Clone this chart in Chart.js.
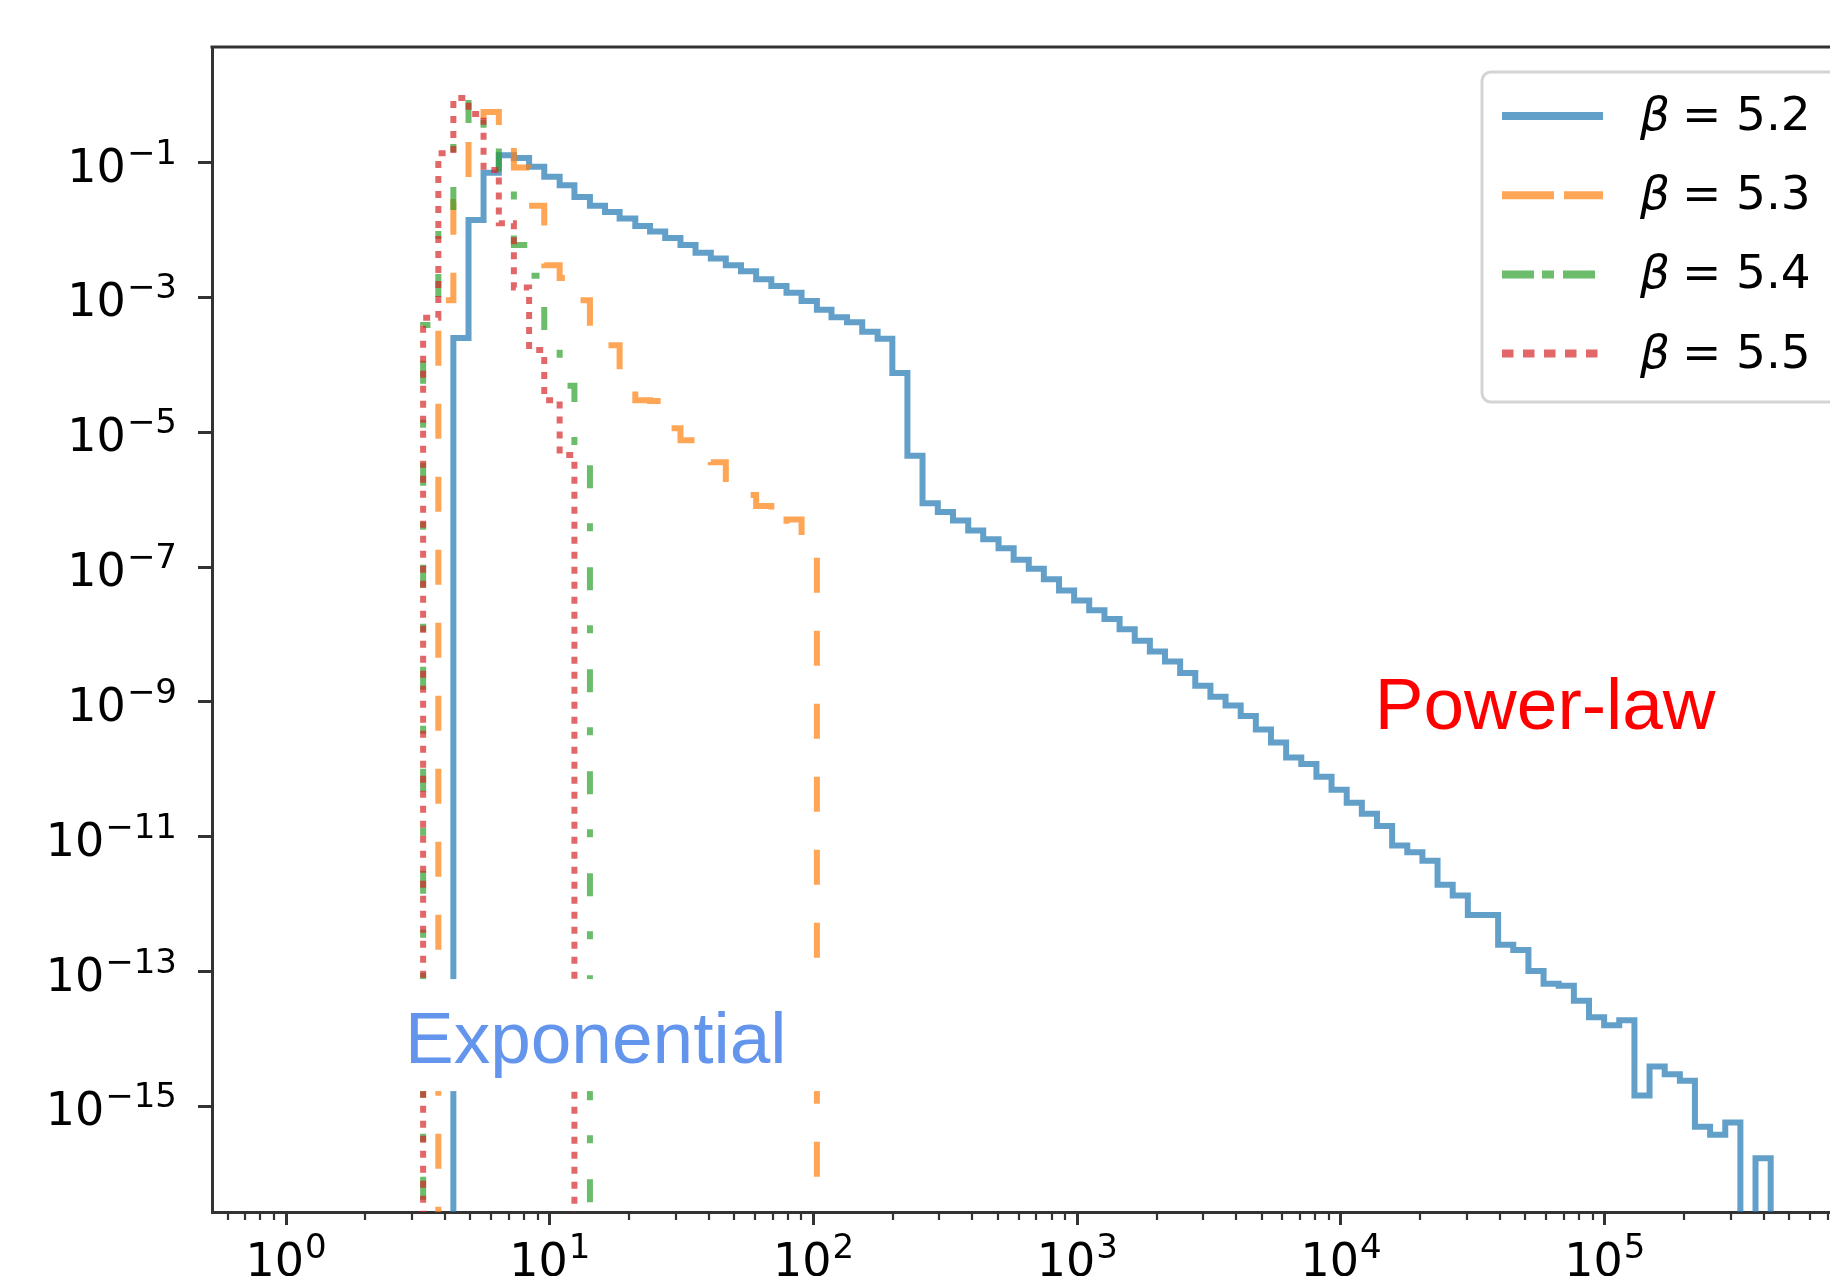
<!DOCTYPE html>
<html>
<head>
<meta charset="utf-8">
<script src="https://cdn.jsdelivr.net/npm/chart.js@4.4.1/dist/chart.umd.min.js"></script>
<style>
  html, body { margin: 0; padding: 0; background: #ffffff; overflow: hidden; width: 1830px; height: 1276px; }
  #wrap { position: absolute; left: 0; top: 0; width: 1900px; height: 1300px; }
</style>
</head>
<body>
<div id="wrap"><canvas id="c" width="1900" height="1300"></canvas></div>
<script>
// ---------------- data ----------------
// shared logarithmic histogram bin edges
const binEdges = [3.31, 3.78, 4.31, 4.92, 5.61, 6.41, 7.31, 8.35, 9.53, 10.9, 12.4, 14.2,
  16.2, 18.4, 21.1, 24.0, 27.4, 31.3, 35.7, 40.8, 46.5, 53.1, 60.6, 69.2, 79.0, 90.1,
  103, 117, 134, 153, 175, 199, 227, 259, 296, 338, 386, 440, 503, 574, 655, 747, 853, 973,
  1110, 1268, 1447, 1652, 1885, 2151, 2455, 2802, 3198, 3650, 4166, 4755, 5427, 6194, 7070,
  8069, 9209, 10510, 11995, 13690, 15626, 17835, 20355, 23234, 26518, 30266, 34545, 39428,
  45001, 51363, 58623, 66910, 76368, 87164, 99480, 113500, 129600, 147900, 168800, 192700,
  219800, 250900, 286400, 326800, 373000, 425800];

const seriesLabels = ['β = 5.2', 'β = 5.3', 'β = 5.4', 'β = 5.5'];

// index of the first bin edge used by each series
const blueFirstEdge = 2, orangeFirstEdge = 1, greenFirstEdge = 0, redFirstEdge = 0;

// histogram densities (0 = empty bin)
const blueValues = [2.5e-4, 1.41e-2, 7.1e-2, 0.129, 0.117, 8.7e-2, 6.2e-2, 4.6e-2, 3.1e-2,
  2.3e-2, 1.86e-2, 1.48e-2, 1.15e-2, 9.5e-3, 7.6e-3, 6.0e-3, 4.6e-3, 3.8e-3, 3.0e-3, 2.45e-3,
  1.86e-3, 1.48e-3, 1.17e-3, 8.9e-4, 6.6e-4, 5.1e-4, 4.3e-4, 3.1e-4, 2.45e-4, 7.6e-5, 4.5e-6,
  8.9e-7, 6.6e-7, 4.9e-7, 3.5e-7, 2.6e-7, 1.9e-7, 1.29e-7, 9.5e-8, 6.6e-8, 4.5e-8, 3.2e-8,
  2.3e-8, 1.7e-8, 1.2e-8, 8.1e-9, 5.6e-9, 4.0e-9, 2.7e-9, 1.74e-9, 1.2e-9, 8.9e-10, 6.2e-10,
  3.9e-10, 2.5e-10, 1.5e-10, 1.2e-10, 7.8e-11, 5.0e-11, 3.2e-11, 2.2e-11, 1.45e-11, 7.4e-12,
  5.9e-12, 4.4e-12, 1.95e-12, 1.35e-12, 6.9e-13, 6.9e-13, 2.5e-13, 2.1e-13, 1.02e-13, 6.6e-14,
  6.2e-14, 3.7e-14, 2.1e-14, 1.6e-14, 1.9e-14, 1.45e-15, 3.9e-15, 3.0e-15, 2.4e-15, 5.0e-16,
  3.8e-16, 5.8e-16, 0, 1.7e-16];
const orangeValues = [9.1e-4, 2.6e-2, 0.257, 0.562, 0.302, 8.5e-2, 2.3e-2, 3.0e-3, 1.95e-3,
  9.1e-4, 3.1e-4, 1.95e-4, 7.1e-5, 3.0e-5, 2.9e-5, 1.15e-5, 7.6e-6, 5.5e-6, 3.6e-6, 1.78e-6,
  1.17e-6, 8.1e-7, 3.8e-7, 5.1e-7, 1.9e-7];
const greenValues = [3.9e-4, 1.15e-2, 0.347, 0.851, 0.324, 5.9e-2, 6.0e-3, 2.1e-3, 2.5e-4,
  4.9e-5, 4.8e-6];
const redValues = [5.0e-4, 0.138, 0.912, 0.525, 7.8e-2, 1.26e-2, 1.41e-3, 1.66e-4, 3.0e-5,
  4.6e-6];

// axis ticks (label = "10" with the exponent written as a superscript)
const xTickValues = [1, 10, 100, 1000, 10000, 100000];
const xTickExponents = ['0', '1', '2', '3', '4', '5'];
const yTickValues = [1e-1, 1e-3, 1e-5, 1e-7, 1e-9, 1e-11, 1e-13, 1e-15];
const yTickExponents = ['\u22121', '\u22123', '\u22125', '\u22127', '\u22129', '\u221211', '\u221213', '\u221215'];

// text annotations (anchored in data coordinates)
const annotationTexts = ['Exponential', 'Power-law'];
const annotationX = [2.825, 13430];
const annotationY = [4.4e-15, 3.94e-10];

// ---------------- chart ----------------
const FLOOR = 1e-30; // an empty bin sits at -infinity on the log axis

function stepPoints(firstEdge, values) {
  const pts = [{ x: binEdges[firstEdge], y: FLOOR }];
  values.forEach((v, i) => pts.push({ x: binEdges[firstEdge + i], y: v > 0 ? v : FLOOR }));
  pts.push({ x: binEdges[firstEdge + values.length], y: FLOOR });
  return pts;
}

const colors = ['rgba(31,119,180,0.7)', 'rgba(255,127,14,0.7)', 'rgba(44,160,44,0.7)', 'rgba(214,39,40,0.7)'];
const plotDashes = [[], [35, 38], [23, 35, 8, 36], [7, 8]];
const legendDashes = [[], [52, 10], [32, 8, 12, 9], [11.5, 9.5]];
const firstEdges = [blueFirstEdge, orangeFirstEdge, greenFirstEdge, redFirstEdge];
const allValues = [blueValues, orangeValues, greenValues, redValues];

const datasets = allValues.map((vals, i) => ({
  label: seriesLabels[i],
  data: stepPoints(firstEdges[i], vals),
  borderColor: colors[i],
  backgroundColor: colors[i],
  borderWidth: 6,
  borderDash: plotDashes[i],
  borderCapStyle: 'butt',
  borderJoinStyle: 'miter',
  stepped: true,
  pointRadius: 0,
  pointHoverRadius: 0,
  fill: false,
  order: 4 - i
}));

const SPINE = '#333333';
const BASE_FONT = '46px "DejaVu Sans"';
const EXP_FONT = '34px "DejaVu Sans"';

// tick labels in matplotlib's mathtext style: "10" followed by a raised, smaller exponent
const tickLabelPlugin = {
  id: 'mathTickLabels',
  afterDraw(chart) {
    const { ctx, chartArea: a, scales: { x, y } } = chart;
    ctx.save();
    ctx.fillStyle = '#000000';
    ctx.textBaseline = 'alphabetic';
    ctx.textAlign = 'left';
    // y axis
    yTickValues.forEach((v, i) => {
      const py = y.getPixelForValue(v);
      ctx.font = EXP_FONT;
      const ew = ctx.measureText(yTickExponents[i]).width;
      ctx.font = BASE_FONT;
      const bw = ctx.measureText('10').width;
      const right = a.left - 35;
      ctx.fillText('10', right - ew - bw - 1, py + 19);
      ctx.font = EXP_FONT;
      ctx.fillText(yTickExponents[i], right - ew, py + 1);
    });
    // x axis
    xTickValues.forEach((v, i) => {
      const px = x.getPixelForValue(v);
      ctx.font = EXP_FONT;
      const ew = ctx.measureText(xTickExponents[i]).width;
      ctx.font = BASE_FONT;
      const bw = ctx.measureText('10').width;
      const left = px - (bw + ew + 1) / 2;
      const base = a.bottom + 64;
      ctx.fillText('10', left, base);
      ctx.font = EXP_FONT;
      ctx.fillText(xTickExponents[i], left + bw + 1, base - 18);
    });
    ctx.restore();
  }
};

const framePlugin = {
  id: 'frame',
  afterDraw(chart) {
    const { ctx, chartArea: a, scales: { x } } = chart;
    ctx.save();
    ctx.strokeStyle = SPINE;
    ctx.lineWidth = 3;
    ctx.beginPath();
    ctx.moveTo(a.left - 1.5, a.top);
    ctx.lineTo(a.right + 1.5, a.top);
    ctx.moveTo(a.right, a.top);
    ctx.lineTo(a.right, a.bottom);
    ctx.stroke();
    // minor ticks on the x axis
    ctx.lineWidth = 2.2;
    ctx.beginPath();
    for (let e = -1; e <= 6; e++) {
      for (let m = 2; m <= 9; m++) {
        const v = m * Math.pow(10, e);
        if (v <= x.min || v >= x.max) continue;
        const px = Math.round(x.getPixelForValue(v));
        ctx.moveTo(px, a.bottom);
        ctx.lineTo(px, a.bottom + 8);
      }
    }
    ctx.stroke();
    ctx.restore();
  }
};

const annotationPlugin = {
  id: 'annotations',
  afterDatasetsDraw(chart) {
    const { ctx, scales: { x, y } } = chart;
    ctx.save();
    ctx.font = '73px "Liberation Sans", Arial, sans-serif';
    ctx.textBaseline = 'alphabetic';
    // Exponential with white box
    const ex = x.getPixelForValue(annotationX[0]);
    const ey = y.getPixelForValue(annotationY[0]);
    ctx.fillStyle = '#ffffff';
    ctx.fillRect(ex - 7, ey - 84, 434, 112);
    ctx.fillStyle = '#6495ED';
    ctx.fillText(annotationTexts[0], ex, ey);
    // Power-law
    const px = x.getPixelForValue(annotationX[1]);
    const py = y.getPixelForValue(annotationY[1]);
    ctx.fillStyle = '#ff0000';
    ctx.fillText(annotationTexts[1], px, py);
    ctx.restore();
  }
};

const legendPlugin = {
  id: 'mplLegend',
  afterDraw(chart) {
    const { ctx, chartArea: a } = chart;
    const right = a.right - 10;
    const left = right - 358;
    const top = a.top + 25;
    const h = 330;
    ctx.save();
    ctx.beginPath();
    ctx.roundRect(left, top, right - left, h, 9);
    ctx.fillStyle = 'rgba(255,255,255,0.8)';
    ctx.fill();
    ctx.lineWidth = 3;
    ctx.strokeStyle = '#d4d4d4';
    ctx.stroke();
    chart.data.datasets.forEach((ds, i) => {
      const rowY = top + 44 + i * 79.2;
      ctx.beginPath();
      ctx.setLineDash(legendDashes[i]);
      ctx.lineCap = 'butt';
      ctx.strokeStyle = ds.borderColor;
      ctx.lineWidth = 8;
      ctx.moveTo(left + 20, rowY);
      ctx.lineTo(left + 121, rowY);
      ctx.stroke();
      ctx.setLineDash([]);
      const parts = ds.label.split(' = ');
      ctx.fillStyle = '#000000';
      ctx.textBaseline = 'alphabetic';
      ctx.font = 'italic 47px "DejaVu Sans"';
      ctx.fillText(parts[0], left + 158, rowY + 14);
      ctx.font = '47px "DejaVu Sans"';
      ctx.fillText('=', left + 200, rowY + 14);
      ctx.fillText(parts[1], left + 254, rowY + 14);
    });
    ctx.restore();
  }
};

Chart.defaults.font.family = '"DejaVu Sans"';

new Chart(document.getElementById('c'), {
  type: 'line',
  data: { datasets },
  plugins: [annotationPlugin, framePlugin, tickLabelPlugin, legendPlugin],
  options: {
    responsive: false,
    devicePixelRatio: 1,
    animation: false,
    events: [],
    layout: { autoPadding: false, padding: { top: 47, right: 50, left: 0, bottom: 0 } },
    plugins: { legend: { display: false }, tooltip: { enabled: false }, title: { display: false } },
    scales: {
      x: {
        type: 'logarithmic',
        position: 'bottom',
        min: 0.524,
        max: 8.51e5,
        afterBuildTicks: s => { s.ticks = xTickValues.map(v => ({ value: v, major: true })); },
        afterFit: s => { s.height = 88; },
        ticks: { display: false, autoSkip: false, maxRotation: 0, minRotation: 0 },
        grid: { display: true, drawOnChartArea: false, drawTicks: true, tickLength: 13, tickWidth: 3, tickColor: SPINE },
        border: { display: true, color: SPINE, width: 3 }
      },
      y: {
        type: 'logarithmic',
        position: 'left',
        min: 2.72e-17,
        max: 5.19,
        afterBuildTicks: s => { s.ticks = yTickValues.map(v => ({ value: v, major: true })); },
        afterFit: s => { s.width = 212; },
        ticks: { display: false, autoSkip: false },
        grid: { display: true, drawOnChartArea: false, drawTicks: true, tickLength: 14, tickWidth: 3, tickColor: SPINE },
        border: { display: true, color: SPINE, width: 3 }
      }
    }
  }
});
</script>
</body>
</html>
